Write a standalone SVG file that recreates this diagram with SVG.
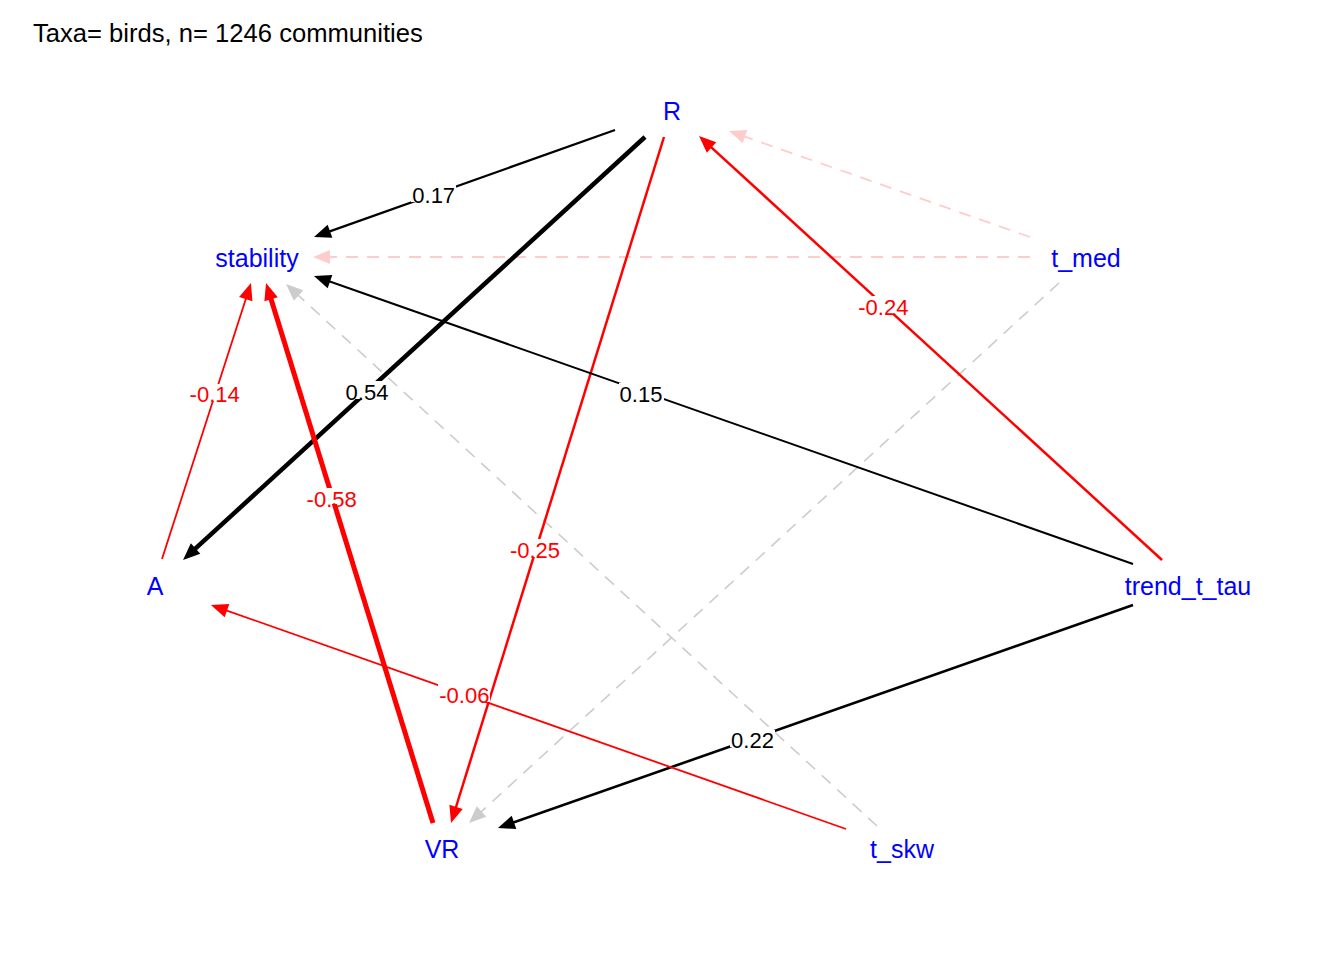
<svg xmlns="http://www.w3.org/2000/svg" width="1344" height="960" viewBox="0 0 1344 960">
<style>
text{font-family:"Liberation Sans",Arial,Helvetica,sans-serif}
.title{font-size:25.6px;fill:#000}
.node text{font-size:25px;fill:#0000FF;text-anchor:middle}
.lbl{font-size:22px;text-anchor:middle}
.lb{fill:#fff;stroke:none}
.e{fill:none;stroke-linecap:butt}
.blk{stroke:#000}
.red{stroke:#FF0000}
.pink{stroke:#FFCCCC;stroke-dasharray:12 9}
.gray{stroke:#CCCCCC;stroke-dasharray:12 9}
</style>
<defs>
<marker id="mb" markerUnits="userSpaceOnUse" markerWidth="17" markerHeight="14" refX="7" refY="7" orient="auto" overflow="visible"><path d="M0,0 L17,7 L0,14 z" fill="#000"/></marker>
<marker id="mr" markerUnits="userSpaceOnUse" markerWidth="17" markerHeight="14" refX="7" refY="7" orient="auto" overflow="visible"><path d="M0,0 L17,7 L0,14 z" fill="#FF0000"/></marker>
<marker id="mp" markerUnits="userSpaceOnUse" markerWidth="17" markerHeight="14" refX="7" refY="7" orient="auto" overflow="visible"><path d="M0,0 L17,7 L0,14 z" fill="#FFCCCC"/></marker>
<marker id="mg" markerUnits="userSpaceOnUse" markerWidth="17" markerHeight="14" refX="7" refY="7" orient="auto" overflow="visible"><path d="M0,0 L17,7 L0,14 z" fill="#CCCCCC"/></marker>
</defs>
<rect width="1344" height="960" fill="#fff"/>
<text class="title" x="33" y="42">Taxa= birds, n= 1246 communities</text>
<g id="connectors">
<line id="e_tmed_R" class="e pink" x1="1030" y1="237" x2="738.4" y2="134.3" stroke-width="1.8" marker-end="url(#mp)"/>
<line id="e_tmed_stability" class="e pink" x1="1030" y1="257" x2="323" y2="257" stroke-width="1.8" marker-end="url(#mp)"/>
<line id="e_tmed_VR" class="e gray" x1="1059" y1="283" x2="476.4" y2="816.2" stroke-width="1.6" marker-end="url(#mg)"/>
<line id="e_tskw_stability" class="e gray" x1="877" y1="826" x2="293.4" y2="290.8" stroke-width="1.6" marker-end="url(#mg)"/>
<line id="e_R_stability" class="e blk" x1="615" y1="130" x2="323.4" y2="233.6" stroke-width="2.2" marker-end="url(#mb)"/>
<line id="e_R_A" class="e blk" x1="645" y1="137" x2="190.4" y2="553.2" stroke-width="4.5" marker-end="url(#mb)"/>
<line id="e_R_VR" class="e red" x1="664" y1="137" x2="454" y2="813.5" stroke-width="2.5" marker-end="url(#mr)"/>
<line id="e_trend_R" class="e red" x1="1162" y1="560" x2="706.4" y2="142.8" stroke-width="2.5" marker-end="url(#mr)"/>
<line id="e_trend_stability" class="e blk" x1="1133" y1="564" x2="323.4" y2="279.3" stroke-width="2" marker-end="url(#mb)"/>
<line id="e_trend_VR" class="e blk" x1="1133" y1="605" x2="507.4" y2="824.7" stroke-width="2.6" marker-end="url(#mb)"/>
<line id="e_tskw_A" class="e red" x1="846" y1="829" x2="220.4" y2="608.3" stroke-width="1.8" marker-end="url(#mr)"/>
<line id="e_A_stability" class="e red" x1="162" y1="559" x2="247.9" y2="292.5" stroke-width="1.8" marker-end="url(#mr)"/>
<line id="e_VR_stability" class="e red" x1="433" y1="823" x2="269" y2="292.6" stroke-width="5" marker-end="url(#mr)"/>
<g id="edge-labels">
<rect class="lb" x="411" y="184" width="45" height="18"/><text class="lbl" x="433.7" y="203" fill="#000">0.17</text>
<rect class="lb" x="345" y="381" width="45" height="18"/><text class="lbl" x="367" y="400" fill="#000">0.54</text>
<rect class="lb" x="619" y="383" width="45" height="18"/><text class="lbl" x="641" y="401.5" fill="#000">0.15</text>
<rect class="lb" x="730" y="730" width="45" height="17"/><text class="lbl" x="752.5" y="748" fill="#000">0.22</text>
<rect class="lb" x="189" y="384" width="52" height="17"/><text class="lbl" x="214.7" y="401.5" fill="#FF0000">-0.14</text>
<rect class="lb" x="857" y="296" width="52" height="18"/><text class="lbl" x="883.3" y="314.5" fill="#FF0000">-0.24</text>
<rect class="lb" x="509" y="539" width="52" height="18"/><text class="lbl" x="535" y="558" fill="#FF0000">-0.25</text>
<rect class="lb" x="438" y="684" width="52" height="18"/><text class="lbl" x="464.3" y="703" fill="#FF0000">-0.06</text>
<rect class="lb" x="306" y="488" width="52" height="16"/><text class="lbl" x="331.7" y="506.7" fill="#FF0000">-0.58</text>
</g>
</g>
<g id="node-R" class="node"><text x="672" y="120">R</text></g>
<g id="node-stability" class="node"><text x="257" y="267">stability</text></g>
<g id="node-t_med" class="node"><text x="1086" y="267">t_med</text></g>
<g id="node-A" class="node"><text x="155" y="595">A</text></g>
<g id="node-trend_t_tau" class="node"><text x="1188" y="595">trend_t_tau</text></g>
<g id="node-VR" class="node"><text x="442" y="858">VR</text></g>
<g id="node-t_skw" class="node"><text x="902" y="858">t_skw</text></g>
</svg>
